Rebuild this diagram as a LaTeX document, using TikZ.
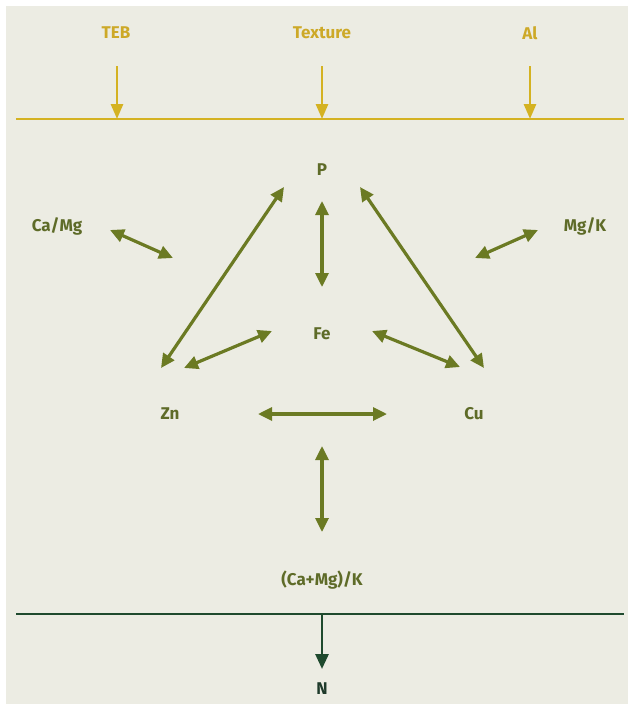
\documentclass[tikz,border=0pt]{standalone}
\usepackage{fontspec}
\setmainfont{Fira Sans}
\usetikzlibrary{arrows.meta}
\definecolor{bg}{HTML}{ECECE3}
\definecolor{gold}{HTML}{D4B222}
\definecolor{goldtxt}{HTML}{CDA928}
\definecolor{olive}{HTML}{6B7A23}
\definecolor{olivetxt}{HTML}{5E6B28}
\definecolor{dkgreen}{HTML}{1F4A2E}
\definecolor{dktxt}{HTML}{1E3A2A}
\tikzset{
  lbl/.style={font=\fontsize{17}{19}\selectfont\bfseries, text=olivetxt, inner sep=0pt},
  toplbl/.style={lbl, text=goldtxt},
  dbl/.style={draw=olive, line width=3.2pt, {Triangle[length=14pt,width=13pt]}-{Triangle[length=14pt,width=13pt]}},
  down/.style={draw=gold, line width=2.8pt, -{Triangle[length=15pt,width=12pt]}},
}
\begin{document}
\begin{tikzpicture}[x=1pt,y=-1pt]
\useasboundingbox (0,0) rectangle (628,704);
\fill[white] (0,0) rectangle (628,704);
\fill[bg] (6,6) rectangle (628,704);

% top labels
\node[toplbl] (teb) at (116,33) {TEB};
\node[toplbl] (tex) at (322,33) {Texture};
\node[toplbl] (al) at (530,33) {Al};
\coordinate (l1) at (16,119);
\coordinate (l2) at (624,119);
\draw[gold, line width=2pt] (l1) -- (l2);
\coordinate (tebE) at (117,119);
\coordinate (texE) at (322,119);
\coordinate (alE) at (530,119);
\draw[down] (teb) ++(1,33) coordinate (tebS) (tebS) -- (tebE);
\draw[down] (tex) ++(0,33) coordinate (texS) (texS) -- (texE);
\draw[down] (al) ++(0,33) coordinate (alS) (alS) -- (alE);

% element labels
\node[lbl] (P) at (322,170) {P};
\node[lbl] (Fe) at (322,334) {Fe};
\node[lbl] (Zn) at (170,414) {Zn};
\node[lbl] (Cu) at (474,414) {Cu};
\node[lbl] (CaMg) at (57,226) {Ca/Mg};
\node[lbl] (MgK) at (585,226) {Mg/K};
\node[lbl] (CaMgK) at (322,580) {(Ca+Mg)/K};

% arrow end points
\coordinate (pf1) at (322,201);
\coordinate (pf2) at (322,287);
\coordinate (pz1) at (284,187);
\coordinate (pz2) at (161,368);
\coordinate (pc1) at (360,187);
\coordinate (pc2) at (484,368);
\coordinate (zf1) at (184,368);
\coordinate (zf2) at (272,331);
\coordinate (fc1) at (372,331);
\coordinate (fc2) at (460,367);
\coordinate (zc1) at (258,414);
\coordinate (zc2) at (387,414);
\coordinate (cm1) at (110,230);
\coordinate (cm2) at (173,258);
\coordinate (mk1) at (475,258);
\coordinate (mk2) at (538,230);
\coordinate (vm1) at (322,446);
\coordinate (vm2) at (322,532);

\draw[dbl] (pf1) -- (pf2);
\draw[dbl] (pz1) -- (pz2);
\draw[dbl] (pc1) -- (pc2);
\draw[dbl] (zf1) -- (zf2);
\draw[dbl] (fc1) -- (fc2);
\draw[dbl] (zc1) -- (zc2);
\draw[dbl] (cm1) -- (cm2);
\draw[dbl] (mk1) -- (mk2);
\draw[dbl] (vm1) -- (vm2);

% bottom
\coordinate (b1) at (16,614);
\coordinate (b2) at (624,614);
\draw[dkgreen, line width=2pt] (b1) -- (b2);
\node[lbl, text=dktxt] (N) at (322,689) {N};
\coordinate (nS) at (322,614);
\coordinate (nE) at (322,669);
\draw[draw=dkgreen, line width=2.8pt, -{Triangle[length=15pt,width=13pt]}] (nS) -- (nE);
\end{tikzpicture}
\end{document}
